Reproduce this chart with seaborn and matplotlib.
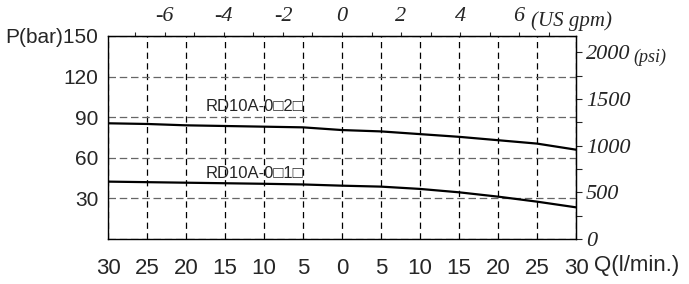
import numpy as np
import pandas as pd
import matplotlib
matplotlib.use("Agg")
import matplotlib.pyplot as plt
import seaborn as sns
from matplotlib.ticker import FixedLocator, MultipleLocator

# flow in l/min, pressure in bar
flow = [-30, -25, -20, -15, -10, -5, 0, 5, 10, 15, 20, 25, 30]
p_02 = [85.5, 85, 84, 83.5, 83, 82.5, 80.5, 79.5, 77.5, 75.5, 73, 70.5, 66]
p_01 = [42.4, 42, 41.6, 41.2, 40.8, 40.3, 39.4, 38.7, 37, 34.5, 31.3, 27.6, 23.4]
labels = ["RD10A-0\u25a12\u25a1", "RD10A-0\u25a11\u25a1"]

bar_ticks = [0, 30, 60, 90, 120, 150]
bar_ticklabels = ["", "30", "60", "90", "120", "P(bar)150"]
gpm_ticks = [-6, -4, -2, 0, 2, 4, 6]
psi_ticks = [0, 500, 1000, 1500, 2000]

LPM_PER_GPM = 3.785
PSI_PER_BAR = 14.5038

sns.set_style("white")
plt.rcParams["font.family"] = ["Liberation Sans", "DejaVu Sans"]
plt.rcParams["axes.unicode_minus"] = False

df = pd.DataFrame({"flow": flow * 2, "p": p_02 + p_01,
                   "model": [labels[0]] * len(flow) + [labels[1]] * len(flow)})

fig = plt.figure(figsize=(6.89, 2.84), dpi=100)
ax = fig.add_axes([108 / 689, 1 - 239 / 284, 468 / 689, 203 / 284])

sns.lineplot(data=df, x="flow", y="p", units="model", estimator=None,
             color="black", lw=1.6, ax=ax)

ax.set_xlim(-30, 30)
ax.set_ylim(0, 150)
ax.set_xlabel("")
ax.set_ylabel("")
ax.set_xticks(flow)
ax.set_xticklabels([str(abs(v)) for v in flow], fontsize=16)
ax.set_yticks(bar_ticks)
ax.set_yticklabels(bar_ticklabels, fontsize=15)
ax.tick_params(axis="x", length=0, pad=14)
ax.tick_params(axis="y", length=0, pad=7)

ax.xaxis.grid(True, color="black", lw=0.9, ls=(0, (5, 3.5)))
ax.yaxis.grid(True, color="#666666", lw=0.9, ls=(0, (6, 3)))
for s in ax.spines.values():
    s.set_color("black")
    s.set_linewidth(1.0)

ax.text(-17.5, 98, labels[0], fontsize=12, ha="left", va="center")
ax.text(-17.5, 48.5, labels[1], fontsize=12, ha="left", va="center")

serif = {"family": "Liberation Serif", "style": "italic"}

top = ax.secondary_xaxis("top", functions=(lambda q: q / LPM_PER_GPM,
                                           lambda g: g * LPM_PER_GPM))
top.xaxis.set_major_locator(FixedLocator(gpm_ticks))
top.xaxis.set_minor_locator(FixedLocator([-7, -5, -3, -1, 1, 3, 5, 7]))
top.set_xticklabels([str(v) for v in gpm_ticks], fontdict=serif, fontsize=16)
top.tick_params(which="both", direction="out", length=3, width=0.8, pad=4)

right = ax.secondary_yaxis("right", functions=(lambda p: p * PSI_PER_BAR,
                                               lambda s: s / PSI_PER_BAR))
right.yaxis.set_major_locator(FixedLocator(psi_ticks))
right.yaxis.set_minor_locator(MultipleLocator(250))
right.set_yticklabels([str(v) for v in psi_ticks], fontdict=serif, fontsize=16)
right.tick_params(which="both", direction="out", length=4, width=0.8, pad=3)

ax.annotate("(US gpm)", xy=(531 / 689, 1 - 21 / 284), xycoords="figure fraction",
            ha="left", va="center", fontsize=15, **{"family": serif["family"], "style": "italic"})
ax.annotate("(psi)", xy=(633 / 689, 1 - 57 / 284), xycoords="figure fraction",
            ha="left", va="center", fontsize=13, **{"family": serif["family"], "style": "italic"})
ax.annotate("Q(l/min.)", xy=(594 / 689, 1 - 266 / 284), xycoords="figure fraction",
            ha="left", va="center", fontsize=16)

fig.savefig("out.png", dpi=100)
